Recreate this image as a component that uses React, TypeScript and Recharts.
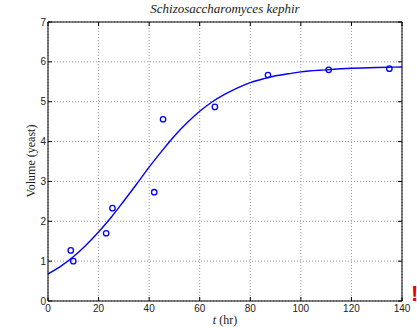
import React from 'react';
import { ComposedChart, Line, Scatter, XAxis, YAxis, CartesianGrid } from 'recharts';

// Gause's yeast culture: hours vs volume
const HOURS = [9, 10, 23, 25.5, 42, 45.5, 66, 87, 111, 135];
const VOLUME = [1.27, 1.0, 1.7, 2.33, 2.73, 4.56, 4.87, 5.67, 5.8, 5.83];

const FIT_HOURS = [0, 5, 10, 15, 20, 25, 30, 35, 40, 45, 50, 55, 60, 65, 70, 75, 80, 85, 90, 95, 100, 110, 120, 130, 140];
const FIT_VOLUME = [0.68, 0.87, 1.11, 1.4, 1.73, 2.1, 2.51, 2.93, 3.36, 3.76, 4.14, 4.47, 4.76, 5.0, 5.19, 5.35, 5.48, 5.57, 5.65, 5.7, 5.75, 5.8, 5.84, 5.86, 5.87];

const X_TICKS = [0, 20, 40, 60, 80, 100, 120, 140];
const Y_TICKS = [0, 1, 2, 3, 4, 5, 6, 7];

const observed = HOURS.map((t, i) => ({ t, v: VOLUME[i] }));
const fitted = FIT_HOURS.map((t, i) => ({ t, v: FIT_VOLUME[i] }));

const BLUE = '#0000ff';
const tickFont = { fill: '#222', fontSize: 10, fontFamily: 'Liberation Sans, Arial, sans-serif' };

const Ring = (props: any) => (
    <circle cx={props.cx} cy={props.cy} r={2.7} fill="none" stroke={BLUE} strokeWidth={1.3} />
);

const NoLabel = () => <g />;

export default function App() {
    return (
        <div style={{ position: 'absolute', left: 0, top: 0, width: 417, height: 327, background: '#fff' }}>
            <div
                style={{
                    position: 'absolute', left: 48, top: 1, width: 354, textAlign: 'center',
                    fontFamily: 'Liberation Serif, serif', fontStyle: 'italic', fontSize: 13, color: '#222'
                }}
            >
                Schizosaccharomyces kephir
            </div>
            <ComposedChart
                width={417}
                height={327}
                margin={{ top: 21, right: 14, left: 0, bottom: 0 }}
            >
                <CartesianGrid xAxisId="b" yAxisId="l" stroke="#999" strokeDasharray="1 2" />
                <XAxis
                    xAxisId="b"
                    type="number"
                    dataKey="t"
                    domain={[0, 140]}
                    ticks={X_TICKS}
                    height={26}
                    tickSize={-4}
                    tickMargin={8}
                    stroke="#000"
                    tick={tickFont}
                />
                <XAxis
                    xAxisId="top"
                    orientation="top"
                    type="number"
                    dataKey="t"
                    domain={[0, 140]}
                    ticks={X_TICKS}
                    height={1}
                    tickSize={-4}
                    stroke="#000"
                    tick={NoLabel}
                />
                <YAxis
                    yAxisId="l"
                    type="number"
                    domain={[0, 7]}
                    ticks={Y_TICKS}
                    width={48}
                    tickSize={-4}
                    tickMargin={6}
                    stroke="#000"
                    tick={tickFont}
                />
                <YAxis
                    yAxisId="r"
                    orientation="right"
                    type="number"
                    domain={[0, 7]}
                    ticks={Y_TICKS}
                    width={1}
                    tickSize={-4}
                    stroke="#000"
                    tick={NoLabel}
                />
                <Line
                    xAxisId="b"
                    yAxisId="l"
                    data={fitted}
                    dataKey="v"
                    type="monotone"
                    stroke={BLUE}
                    strokeWidth={1.4}
                    dot={false}
                    isAnimationActive={false}
                />
                {/* invisible series so the top/right frame axes get drawn */}
                <Line
                    xAxisId="top"
                    yAxisId="r"
                    data={fitted}
                    dataKey="v"
                    stroke="none"
                    dot={false}
                    activeDot={false}
                    isAnimationActive={false}
                />
                <Scatter
                    xAxisId="b"
                    yAxisId="l"
                    data={observed}
                    dataKey="v"
                    shape={Ring}
                    isAnimationActive={false}
                />
            </ComposedChart>
            <div
                style={{
                    position: 'absolute', left: 48, top: 313, width: 354, textAlign: 'center',
                    fontFamily: 'Liberation Serif, serif', fontSize: 12, color: '#222'
                }}
            >
                <i>t</i> (hr)
            </div>
            <div
                style={{
                    position: 'absolute', left: 31, top: 161, width: 0, height: 0,
                    fontFamily: 'Liberation Serif, serif', fontSize: 12, color: '#222'
                }}
            >
                <div style={{ transform: 'translate(-50%, -50%) rotate(-90deg)', whiteSpace: 'nowrap', display: 'inline-block', position: 'absolute' }}>
                    Volume (yeast)
                </div>
            </div>
            <div
                style={{
                    position: 'absolute', left: 411, top: 279, color: '#e00', fontWeight: 'bold',
                    fontFamily: 'Liberation Sans, sans-serif', fontSize: 22, lineHeight: '30px'
                }}
            >
                !
            </div>
        </div>
    );
}
